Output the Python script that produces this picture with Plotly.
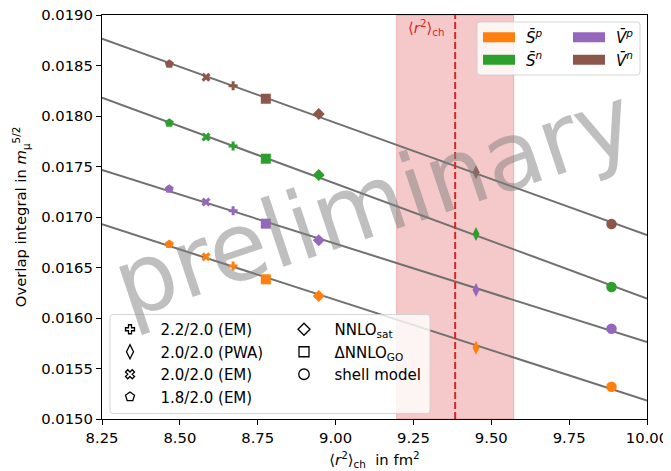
import numpy as np
import plotly.graph_objects as go

# ---------------- data ----------------
methods = ["1.8/2.0 (EM)", "2.0/2.0 (EM)", "2.2/2.0 (EM)", "ΔNNLO<sub>GO</sub>",
           "NNLO<sub>sat</sub>", "2.0/2.0 (PWA)", "shell model"]
r2_ch = [8.466, 8.584, 8.671, 8.776, 8.946, 9.451, 9.886]

S_p = [0.016730, 0.016607, 0.016515, 0.016383, 0.016218, 0.015706, 0.015320]
S_n = [0.017931, 0.017792, 0.017703, 0.017577, 0.017416, 0.016832, 0.016307]
V_p = [0.017277, 0.017149, 0.017062, 0.016934, 0.016769, 0.016277, 0.015894]
V_n = [0.018515, 0.018383, 0.018300, 0.018171, 0.018020, 0.017443, 0.016931]

series_names = ["<i>S̄</i><sup><i>p</i></sup>", "<i>S̄</i><sup><i>n</i></sup>",
                "<i>V̄</i><sup><i>p</i></sup>", "<i>V̄</i><sup><i>n</i></sup>"]

r2_exp = 9.384
r2_exp_err = 0.188

x_ticks = [8.25, 8.50, 8.75, 9.00, 9.25, 9.50, 9.75, 10.00]
y_ticks = [0.0150, 0.0155, 0.0160, 0.0165, 0.0170, 0.0175, 0.0180, 0.0185, 0.0190]
x_range = [8.25, 10.0]
y_range = [0.0150, 0.0190]

# ---------------- style ----------------
colors = ["#ff7f0e", "#2ca02c", "#9467bd", "#8c564b"]
symbols = ["pentagon", "x", "cross", "square", "diamond", "diamond-tall", "circle"]
sizes = [9.5, 8, 7.5, 10, 9.2, 10, 10.5]
FONT = "DejaVu Sans"
FS = 14.8
PAD_MARK = "\u2002\u2009"   # extra gap between legend symbol and label
PAD_PATCH = "\u2009\u2009"

fig = go.Figure()

all_series = [S_p, S_n, V_p, V_n]

# fitted lines (drawn first, below markers)
xfit = np.array(x_range)
for vals in all_series:
    k, d = np.polyfit(r2_ch, vals, 1)
    fig.add_trace(go.Scatter(x=xfit, y=k * xfit + d, mode="lines",
                             line=dict(color="#707070", width=2),
                             showlegend=False, hoverinfo="skip"))

# data markers
for vals, col in zip(all_series, colors):
    for i in range(len(methods)):
        fig.add_trace(go.Scatter(x=[r2_ch[i]], y=[vals[i]], mode="markers",
                                 marker=dict(symbol=symbols[i], size=sizes[i], color=col,
                                             line=dict(width=0)),
                                 showlegend=False))

# top-right legend: colour patches (two columns)
patch_legend = ["legend", "legend", "legend2", "legend2"]
for name, col, lg in zip(series_names, colors, patch_legend):
    fig.add_trace(go.Scatter(x=[None], y=[None], mode="lines",
                             line=dict(color=col, width=12),
                             name=PAD_PATCH + name, legend=lg))

# bottom-left legend: marker shapes (two columns)
legend_order = [2, 5, 1, 0, 4, 3, 6]
legend_cols = ["legend3", "legend3", "legend3", "legend3", "legend4", "legend4", "legend4"]
for idx, lg in zip(legend_order, legend_cols):
    fig.add_trace(go.Scatter(x=[None], y=[None], mode="markers",
                             marker=dict(symbol=symbols[idx] + "-open", size=sizes[idx],
                                         color="black", line=dict(width=1.3, color="black")),
                             name=PAD_MARK + methods[idx], legend=lg))

# ---------------- layout helpers ----------------
# the page body adds an 8 px offset; the figure is sized so it fills the window exactly
OFF = 8
W, H = 671 - OFF, 471 - OFF
PX0, PX1, PY0, PY1 = 102, 647, 15, 419          # plot area in window pixels
L, R, T, B = PX0 - OFF, 671 - PX1, PY0 - OFF, 471 - PY1
pw, ph = PX1 - PX0, PY1 - PY0


def px2paper(px, py):
    return (px - PX0) / pw, (PY1 - py) / ph


def rounded_box(x0p, y0p, x1p, y1p, rad=3):
    a, b = px2paper(x0p, y1p)
    c, d = px2paper(x1p, y0p)
    rx, ry = rad / pw, rad / ph
    return (f"M{a+rx},{b} L{c-rx},{b} Q{c},{b} {c},{b+ry} L{c},{d-ry} Q{c},{d} {c-rx},{d} "
            f"L{a+rx},{d} Q{a},{d} {a},{d-ry} L{a},{b+ry} Q{a},{b} {a+rx},{b} Z")


shapes = [
    dict(type="rect", xref="x", yref="paper", x0=r2_exp - r2_exp_err, x1=r2_exp + r2_exp_err,
         y0=0, y1=1, fillcolor="rgba(214,39,40,0.25)",
         line=dict(color="rgba(214,39,40,0.25)", width=1), layer="below"),
    dict(type="line", xref="x", yref="paper", x0=r2_exp, x1=r2_exp, y0=0, y1=1,
         line=dict(color="#d62728", width=2, dash="7px,3px"), layer="above"),
    dict(type="path", xref="paper", yref="paper", path=rounded_box(477, 22, 640, 75),
         fillcolor="rgba(255,255,255,0.8)", line=dict(color="rgba(204,204,204,0.8)", width=1),
         layer="above"),
    dict(type="path", xref="paper", yref="paper", path=rounded_box(110, 314.5, 430, 413.5),
         fillcolor="rgba(255,255,255,0.8)", line=dict(color="rgba(204,204,204,0.8)", width=1),
         layer="above"),
]


def legend_at(px, py, iw):
    x, y = px2paper(px, py)
    return dict(x=x, y=y, xanchor="left", yanchor="top", bgcolor="rgba(0,0,0,0)",
                borderwidth=0, font=dict(family=FONT, size=15, color="black"),
                itemwidth=iw, orientation="v")


wx, wy = px2paper(373, 202)

axis_common = dict(ticks="outside", ticklen=5, tickwidth=1.2, tickcolor="black",
                   showline=True, linecolor="black", linewidth=1.2, mirror=True,
                   showgrid=False, zeroline=False, automargin=False,
                   ticklabeloverflow="allow")

fig.update_layout(
    width=W, height=H,
    margin=dict(l=L, r=R, t=T, b=B, autoexpand=False),
    paper_bgcolor="white", plot_bgcolor="white",
    font=dict(family=FONT, size=FS, color="black"),
    showlegend=True,
    legend=legend_at(478, 21, 32),
    legend2=legend_at(568, 21, 32),
    legend3=legend_at(110, 313, 30),
    legend4=legend_at(284, 313, 30),
    shapes=shapes,
    annotations=[
        dict(text="⟨<i>r</i><sup>2</sup>⟩<sub>ch</sub>", x=r2_exp - 0.025, y=0.01888,
             xref="x", yref="y", xanchor="right", yanchor="middle", showarrow=False,
             font=dict(family=FONT, size=FS, color="#d62728")),
        dict(text="preliminary", x=wx, y=wy, xref="paper", yref="paper",
             xanchor="center", yanchor="middle", showarrow=False, textangle=-18.5,
             borderpad=0,
             font=dict(family=FONT, size=95, color="rgba(128,128,128,0.5)")),
    ],
    xaxis=dict(range=x_range, tickvals=x_ticks, tickformat=".2f",
               title=dict(text="⟨<i>r</i><sup>2</sup>⟩<sub>ch</sub>  in fm<sup>2</sup>",
                          font=dict(family=FONT, size=FS), standoff=9),
               **axis_common),
    yaxis=dict(range=y_range, tickvals=y_ticks, tickformat=".4f",
               title=dict(text="Overlap integral in <i>m</i><sub>μ</sub><sup>5/2</sup>",
                          font=dict(family=FONT, size=FS), standoff=10),
               **axis_common),
)

fig.write_html("out.html")
